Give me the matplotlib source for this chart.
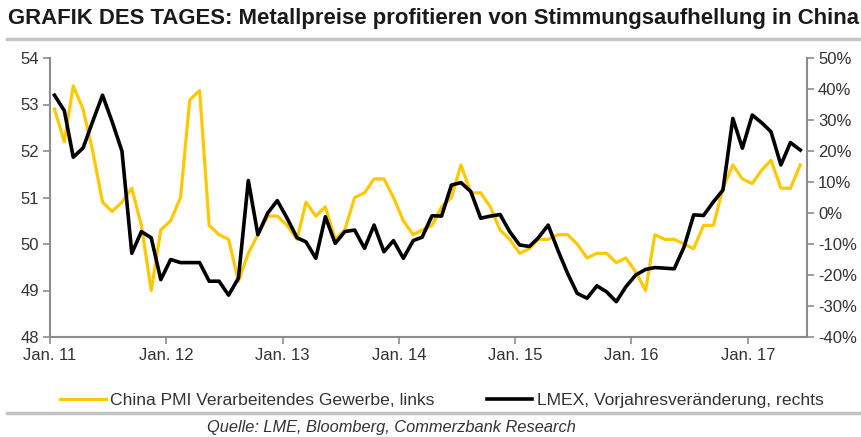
import pandas as pd
import matplotlib.pyplot as plt
from matplotlib.ticker import FuncFormatter

plt.rcParams['font.family'] = ['Liberation Sans', 'DejaVu Sans']

# China PMI (left axis), monthly Jan 2011 - Jun 2017
pmi = [52.9, 52.2, 53.4, 52.9, 52.0, 50.9, 50.7, 50.9, 51.2, 50.4, 49.0, 50.3,
       50.5, 51.0, 53.1, 53.3, 50.4, 50.2, 50.1, 49.2, 49.8, 50.2, 50.6, 50.6,
       50.4, 50.1, 50.9, 50.6, 50.8, 50.1, 50.3, 51.0, 51.1, 51.4, 51.4, 51.0,
       50.5, 50.2, 50.3, 50.4, 50.8, 51.0, 51.7, 51.1, 51.1, 50.8, 50.3, 50.1,
       49.8, 49.9, 50.1, 50.1, 50.2, 50.2, 50.0, 49.7, 49.8, 49.8, 49.6, 49.7,
       49.4, 49.0, 50.2, 50.1, 50.1, 50.0, 49.9, 50.4, 50.4, 51.2, 51.7, 51.4,
       51.3, 51.6, 51.8, 51.2, 51.2, 51.7]

# LMEX y/y change in % (right axis)
lmex = [38, 33, 18, 21, 29.5, 38, 29.5, 20, -13, -6, -8, -21.5,
        -15, -16, -16, -16, -22, -22, -26.5, -21, 10.5, -7, 0, 4,
        -1.7, -8, -9.3, -14.6, -1.2, -9.8, -6, -5.5, -11.4, -3.9, -12.5, -8.9,
        -14.6, -8.9, -7.8, -0.9, -1, 9, 9.8, 6.9, -1.7, -1, -0.5, -6,
        -10.3, -10.8, -8, -3.9, -11.9, -19.5, -25.9, -27.5, -23.5, -25.4, -28.6, -23.8,
        -20, -18.2, -17.6, -17.8, -18, -10.9, -0.6, -0.8, 3.6, 7.4, 30.5, 20.9,
        31.6, 29, 26.2, 15.5, 22.7, 20.3]

dates = pd.date_range('2011-01-01', periods=len(pmi), freq='MS') + pd.Timedelta(days=14)
year_ticks = pd.date_range('2011-01-01', '2017-01-01', freq='YS')
year_labels = ['Jan. 11', 'Jan. 12', 'Jan. 13', 'Jan. 14', 'Jan. 15', 'Jan. 16', 'Jan. 17']

yellow = '#ffc800'
grey = '#8c8c8c'
txt = '#333333'

fig = plt.figure(figsize=(8.61, 4.37), dpi=100)
ax = fig.add_axes([50 / 861, 100 / 437, 757 / 861, 279 / 437])
ax2 = ax.twinx()

ax.plot(dates, pmi, color=yellow, lw=2.3, label='China PMI Verarbeitendes Gewerbe, links')
ax2.plot(dates, lmex, color='black', lw=2.6, label='LMEX, Vorjahresveränderung, rechts')

ax.set_xlim(pd.Timestamp('2011-01-01'), pd.Timestamp('2017-07-06'))
ax.set_ylim(48, 54)
ax2.set_ylim(-40, 50)
ax.set_yticks(range(48, 55))
ax2.set_yticks(range(-40, 51, 10))
ax2.yaxis.set_major_formatter(FuncFormatter(lambda v, p: f'{int(v)}%'))
ax.set_xticks(year_ticks)
ax.set_xticklabels(year_labels)

for a in (ax, ax2):
    a.spines['top'].set_visible(False)
    for s in ('left', 'right', 'bottom'):
        a.spines[s].set_color(grey)
        a.spines[s].set_linewidth(1.5)
    a.tick_params(colors=grey, labelcolor=txt, labelsize=12, width=1.2, length=5, pad=3)
ax.spines['right'].set_visible(False)
ax2.spines['left'].set_visible(False)
ax2.spines['bottom'].set_visible(False)

fig.text(0.009, 0.958, 'GRAFIK DES TAGES: Metallpreise profitieren von Stimmungsaufhellung in China',
         fontsize=15.9, fontweight='bold', color='#1a1a1a', va='center', ha='left')
fig.add_artist(plt.Line2D([0.008, 1.0], [0.911, 0.911], color='#c4c4c4', lw=2.5))
fig.add_artist(plt.Line2D([0.008, 1.0], [0.055, 0.055], color='#c4c4c4', lw=2.5))

h1, l1 = ax.get_legend_handles_labels()
h2, l2 = ax2.get_legend_handles_labels()
fig.legend(h1 + h2, l1 + l2, loc='center', bbox_to_anchor=(0.513, 0.083), ncol=2,
           frameon=False, fontsize=12.6, handlelength=2.6, handletextpad=0.25,
           columnspacing=3.0, labelcolor=txt)

fig.text(0.24, 0.022, 'Quelle: LME, Bloomberg, Commerzbank Research', fontsize=11.8,
         style='italic', color=txt, va='center', ha='left')

fig.savefig('out.png', dpi=100)
